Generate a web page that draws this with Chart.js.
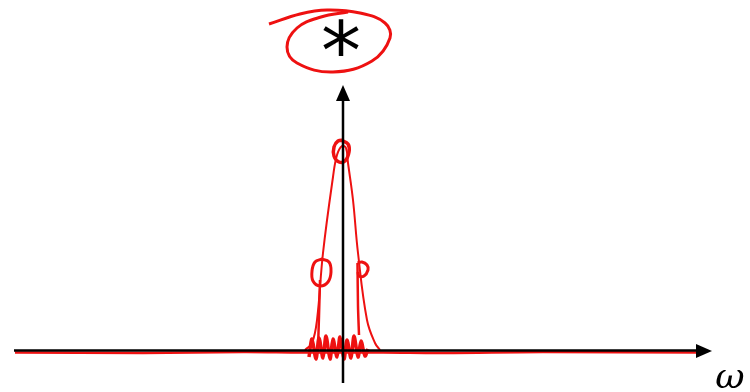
<!DOCTYPE html>
<html>
<head>
<meta charset="utf-8">
<script src="https://cdn.jsdelivr.net/npm/chart.js@4/dist/chart.umd.min.js"></script>
<style>
  html, body { margin: 0; padding: 0; background: #fff; }
  #sketch { display: block; }
</style>
</head>
<body>
<canvas id="sketch" width="750" height="392"></canvas>
<script>
// Eixos (unidades: 1 = 10px)
const eixoX = [-32.9, 35.6];
const eixoY = [-3.2, 25.3];

// Linha base vermelha
const baseX = [-32.8, -20, -10, -4, 4, 10, 20, 35.6];
const baseY = [-0.15, -0.2, -0.1, -0.15, -0.15, -0.2, -0.1, -0.15];

// Pico estreito em torno de w = 0
const picoX = [-3.8, -3.1, -2.6, -2.0, -1.0, -0.6, -0.1, 0.3, 0.5, 1.0, 1.5, 2.4, 3.2, 3.7];
const picoY = [0.1, 0.8, 3.1, 9.8, 17.4, 19.6, 20.5, 20.3, 18.8, 15.1, 9.8, 3.1, 0.8, 0.1];

// Pequenos círculos marcados sobre a curva
const laçoTopoX = [-0.2, 0.5, 0.6, 0.2, -0.4, -0.9, -0.9, -0.5, 0.1];
const laçoTopoY = [21.1, 20.7, 19.9, 19.0, 18.9, 19.5, 20.4, 21.0, 21.1];
const laçoEsqX = [-2.2, -1.4, -1.2, -1.5, -2.3, -3.0, -3.1, -2.8, -2.1];
const laçoEsqY = [9.2, 8.9, 7.9, 6.9, 6.5, 7.0, 8.0, 8.9, 9.2];
const laçoDirX = [1.45, 1.9, 2.4, 2.5, 2.1, 1.6, 1.5];
const laçoDirY = [8.8, 8.9, 8.6, 8.1, 7.5, 7.5, 7.9];

// Traços verticais que descem dos círculos
const traçoEsqX = [-2.3, -2.4, -2.5];
const traçoEsqY = [7.1, 3.5, 0.2];
const traçoDirX = [1.45, 1.5, 1.6];
const traçoDirY = [8.8, 4.5, 1.6];

// Rabisco na base
const rabiscoX = [-3.4, -3.1, -2.7, -2.4, -2.0, -1.7, -1.3, -1.0, -0.6, -0.3,
                  0.1, 0.4, 0.8, 1.1, 1.5, 1.8, 2.2, 2.5];
const rabiscoY = [-0.6, 1.2, -0.8, 1.3, -0.7, 1.5, -0.8, 1.2, -0.6, 1.4,
                  -0.8, 1.1, -0.7, 1.5, -0.6, 1.0, -0.5, 0.2];

// Elipse em volta do asterisco, com a cauda à esquerda
const elipseX = [-7.4, -4.3, -1.6, 1.7, 4.2, 4.7, 2.9, -1.0, -4.6, -5.6, -4.6, -2.2, 0.5];
const elipseY = [32.7, 33.7, 34.1, 33.8, 32.8, 31.3, 29.0, 27.9, 28.8, 30.4, 32.3, 33.4, 33.9];

const zip = (xs, ys) => xs.map((x, i) => ({ x: x, y: ys[i] }));

const linha = (xs, ys, cor, largura, tensao) => ({
    data: zip(xs, ys),
    borderColor: cor,
    borderWidth: largura,
    pointRadius: 0,
    tension: tensao,
    fill: false
});

const VERMELHO = '#ee1111';

// Setas, asterisco e rótulo do eixo
const anotacoes = {
    id: 'anotacoes',
    afterDatasetsDraw(chart) {
        const ctx = chart.ctx;
        const sx = chart.scales.x;
        const sy = chart.scales.y;
        ctx.save();
        ctx.fillStyle = '#000';

        // seta do eixo horizontal
        const ax = sx.getPixelForValue(eixoX[1]);
        const ay = sy.getPixelForValue(0);
        ctx.beginPath();
        ctx.moveTo(ax + 13, ay);
        ctx.lineTo(ax - 3, ay - 7);
        ctx.lineTo(ax - 3, ay + 7);
        ctx.closePath();
        ctx.fill();

        // seta do eixo vertical
        const bx = sx.getPixelForValue(0);
        const by = sy.getPixelForValue(eixoY[1]);
        ctx.beginPath();
        ctx.moveTo(bx, by - 13);
        ctx.lineTo(bx - 7, by + 3);
        ctx.lineTo(bx + 7, by + 3);
        ctx.closePath();
        ctx.fill();

        // asterisco centrado pela caixa real do glifo
        ctx.font = '80px "DejaVu Sans"';
        ctx.textAlign = 'left';
        ctx.textBaseline = 'alphabetic';
        const m = ctx.measureText('*');
        const cx = sx.getPixelForValue(0);
        const cy = sy.getPixelForValue(31.4);
        const gx = cx - (m.actualBoundingBoxRight - m.actualBoundingBoxLeft) / 2 + m.actualBoundingBoxLeft;
        const gy = cy + (m.actualBoundingBoxAscent - m.actualBoundingBoxDescent) / 2;
        ctx.fillText('*', gx, gy);

        ctx.textAlign = 'center';
        ctx.textBaseline = 'middle';
        ctx.font = 'italic 36px "DejaVu Serif"';
        ctx.fillText('ω', sx.getPixelForValue(38.7), sy.getPixelForValue(-2.8));
        ctx.restore();
    }
};

new Chart(document.getElementById('sketch'), {
    type: 'line',
    data: {
        datasets: [
            linha([0, 0], eixoY, '#000', 2.5, 0),
            linha(eixoX, [0.05, 0.05], '#000', 2.5, 0),
            linha(baseX, baseY, VERMELHO, 2.5, 0.4),
            linha(picoX, picoY, VERMELHO, 2, 0.4),
            linha(laçoTopoX, laçoTopoY, VERMELHO, 3.5, 0.4),
            linha(laçoEsqX, laçoEsqY, VERMELHO, 3, 0.4),
            linha(laçoDirX, laçoDirY, VERMELHO, 3, 0.4),
            linha(traçoEsqX, traçoEsqY, VERMELHO, 2.5, 0.3),
            linha(traçoDirX, traçoDirY, VERMELHO, 2.5, 0.3),
            linha(rabiscoX, rabiscoY, VERMELHO, 3.5, 0.3),
            linha(elipseX, elipseY, VERMELHO, 3, 0.4)
        ]
    },
    options: {
        responsive: false,
        animation: false,
        layout: { padding: 0 },
        plugins: {
            legend: { display: false },
            tooltip: { enabled: false }
        },
        scales: {
            x: { type: 'linear', min: -34.3, max: 40.7, display: false },
            y: { type: 'linear', min: -4.1, max: 35.1, display: false }
        }
    },
    plugins: [anotacoes]
});
</script>
</body>
</html>
